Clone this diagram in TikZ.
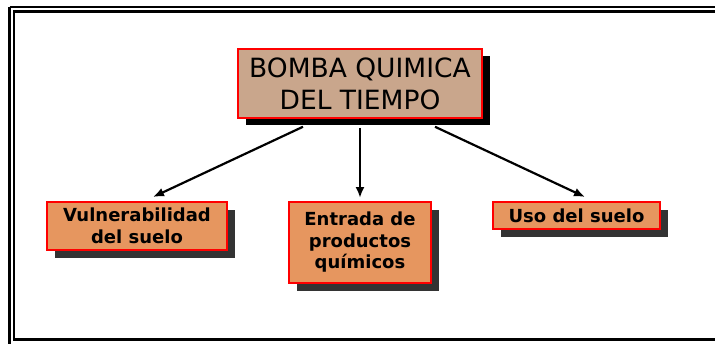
\documentclass[tikz,border=0pt]{standalone}
\usepackage{fontspec}
\setmainfont{DejaVu Sans}
\usepackage{tikz}
\usetikzlibrary{arrows.meta,shadows}

\definecolor{tanfill}{HTML}{C9A68C}
\definecolor{boxfill}{HTML}{E6965F}
\definecolor{boxshade}{HTML}{333333}

\tikzset{
  titlebox/.style={draw=red, line width=1.5pt, fill=tanfill, inner sep=0pt,
    minimum width=244pt, minimum height=69pt, align=center,
    font=\fontsize{26.5}{32}\selectfont,
    drop shadow={shadow xshift=8pt, shadow yshift=-7pt, fill=black, opacity=1}},
  itembox/.style={draw=red, line width=2pt, fill=boxfill, inner sep=0pt,
    align=center, font=\bfseries\fontsize{18}{21.5}\selectfont,
    drop shadow={shadow xshift=8pt, shadow yshift=-8pt, fill=boxshade, opacity=1}},
  arr/.style={line width=2.2pt, -{Latex[length=11pt,width=9pt]}}
}

\begin{document}
\begin{tikzpicture}[x=1pt,y=-1pt]
\useasboundingbox (0,0) rectangle (715,343);

\draw[line width=2.5pt] (9.5,7) -- (730,7);
\draw[line width=2.5pt] (9.5,7) -- (9.5,360);
\draw[line width=2.5pt] (730,11.5) -- (14,11.5) -- (14,339.5) -- (730,339.5);

\node[titlebox] (bomba) at (360,83.5) {BOMBA QUIMICA\\DEL TIEMPO};

\node[itembox, minimum width=180pt, minimum height=48pt] (vuln) at (137,226) {Vulnerabilidad\\del suelo};
\node[itembox, minimum width=142pt, minimum height=81pt] (entrada) at (360,242.5) {Entrada de\\productos\\químicos};
\node[itembox, minimum width=167pt, minimum height=27pt] (uso) at (576.5,215.5) {Uso del suelo};

\draw[arr] ([xshift=-57pt,yshift=-8pt]bomba.south) -- ([xshift=16pt,yshift=4pt]vuln.north);
\draw[arr] ([yshift=-9pt]bomba.south) -- ([yshift=3pt]entrada.north);
\draw[arr] ([xshift=75pt,yshift=-8pt]bomba.south) -- ([xshift=8.5pt,yshift=4pt]uso.north);

\end{tikzpicture}
\end{document}
